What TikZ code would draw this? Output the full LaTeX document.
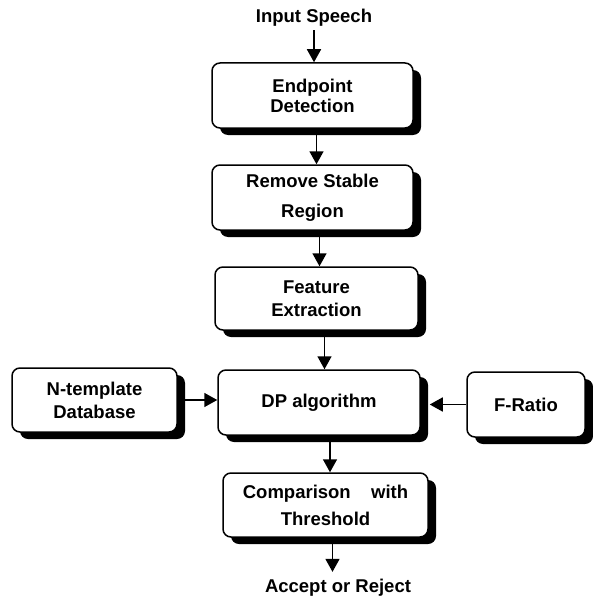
\documentclass[tikz,border=0pt]{standalone}
\usepackage{fontspec}
\setmainfont{Liberation Sans}
\usetikzlibrary{arrows.meta,shadows}
\begin{document}
\begin{tikzpicture}[x = 1pt, y = -1pt,
            box/.style = {draw, line width = 1.5pt, rounded corners = 8pt, fill = white, align = center, inner sep = 0pt,
                drop shadow = {shadow xshift = 8pt, shadow yshift = -7pt, fill = black, opacity = 1}},
            arr/.style = {line width = 1.6pt, -{Triangle[width = 14pt, length = 13pt]}},
            font = \fontsize{18.5}{22}\selectfont\bfseries]
            \useasboundingbox (0, 0) rectangle (592, 599);
            \node (in) at (314, 18) {Input Speech};
            \node [box, minimum width = 201, minimum height = 65] (ep) at (312.5, 95.5) {Endpoint\\[-2pt]Detection};
            \node [box, minimum width = 201, minimum height = 65] (rs) at (312.5, 197.5) {Remove Stable\\[8pt]Region};
            \node [box, minimum width = 203, minimum height = 63] (fe) at (316.5, 298.5) {Feature\\[1pt]Extraction};
            \node [box, minimum width = 165, minimum height = 64] (db) at (94.5, 400) {N-template\\[1pt]Database};
            \node [box, minimum width = 202, minimum height = 65] (dp) at (319, 402.5) {DP algorithm};
            \node [box, minimum width = 118, minimum height = 65] (fr) at (526, 404.5) {F-Ratio};
            \node [box, minimum width = 205, minimum height = 64] (cmp) at (325.5, 505) {Comparison\hspace{1.1em}with\\[5pt]Threshold};
            \node (out) at (338, 588) {Accept or Reject};
            \draw [arr] (in.south) -- (in.south |- ep.north);
            \draw [arr] ([xshift = 4pt]ep.south) -- ([xshift = 4pt]ep.south |- rs.north);
            \draw [arr] ([xshift = 7pt]rs.south) -- ([xshift = 7pt]rs.south |- fe.north);
            \draw [arr] ([xshift = 8pt]fe.south) -- ([xshift = 8pt]fe.south |- dp.north);
            \draw [arr] (db.east) -- (db.east -| dp.west);
            \draw [arr] (fr.west) -- ([xshift = 9pt]fr.west -| dp.east);
            \draw [arr] ([xshift = 11pt]dp.south) -- ([xshift = 11pt]dp.south |- cmp.north);
            \draw [arr] ([xshift = 7pt]cmp.south) -- ([xshift = 7pt, yshift = 4pt]cmp.south |- out.north);
        \end{tikzpicture}
\end{document}
